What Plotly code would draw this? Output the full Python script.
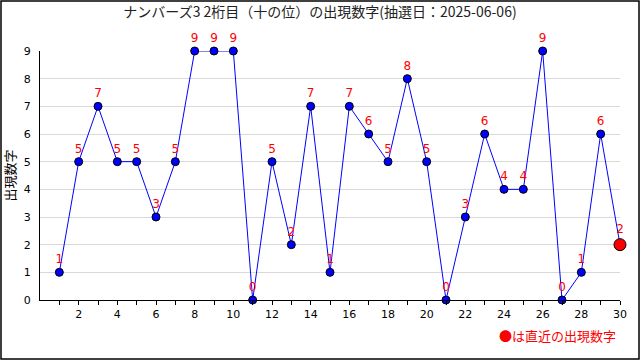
import plotly.graph_objects as go

draws = list(range(1, 31))
digits = [1, 5, 7, 5, 5, 3, 5, 9, 9, 9, 0, 5, 2, 7, 1, 7, 6, 5, 8, 5, 0, 3, 6, 4, 4, 9, 0, 1, 6, 2]
title = "ナンバーズ3 2桁目（十の位）の出現数字(抽選日：2025-06-06)"
y_title = "出現数字"
legend_text = "●は直近の出現数字"
x_tick_vals = list(range(1, 31))
x_tick_text = [str(v) if v % 2 == 0 else "" for v in x_tick_vals]
y_tick_vals = list(range(0, 10))

W, H = 640, 360
L, R, T, B = 40, 20, 51, 60
pw, ph = W - L - R, H - T - B

font = "DejaVu Sans, Noto Sans CJK JP"

fig = go.Figure()
fig.add_trace(go.Scatter(
    x=draws, y=digits, mode="lines+markers+text",
    line=dict(color="#0000ff", width=1),
    marker=dict(color="#0000ff", size=8, line=dict(color="black", width=1)),
    text=[str(d) for d in digits[:-1]] + [""], textposition="top center",
    textfont=dict(color="#ff0000", size=12, family=font),
    cliponaxis=False, hoverinfo="skip", showlegend=False,
))
fig.add_trace(go.Scatter(
    x=draws[-1:], y=digits[-1:], mode="markers+text",
    marker=dict(color="#ff0000", size=12, line=dict(color="black", width=1)),
    text=[str(digits[-1])], textposition="top center",
    textfont=dict(color="#ff0000", size=12, family=font),
    cliponaxis=False, hoverinfo="skip", showlegend=False,
))

fig.update_layout(
    width=W, height=H,
    margin=dict(l=L, r=R, t=T, b=B, autoexpand=False),
    paper_bgcolor="white", plot_bgcolor="white",
    font=dict(family=font, size=12, color="black"),
    title=dict(text=title, x=0.5, xanchor="center", y=1 - 12 / H, yanchor="middle",
               font=dict(size=14, family="Noto Sans CJK JP", color="#222")),
    xaxis=dict(range=[0, 30], tickvals=x_tick_vals, ticktext=x_tick_text,
               ticks="outside", ticklen=4, tickcolor="black", showgrid=False,
               showline=True, linecolor="black", linewidth=1, zeroline=False,
               automargin=False,
               tickfont=dict(size=11, family=font), fixedrange=True),
    yaxis=dict(range=[0, 9], tickvals=y_tick_vals, showgrid=True, gridcolor="#d9d9d9",
               showline=True, linecolor="black", linewidth=1, zeroline=False,
               ticks="", ticklabelstandoff=6, automargin=False,
               tickfont=dict(size=11, family=font), fixedrange=True),
    shapes=[dict(type="rect", xref="paper", yref="paper",
                 x0=(-L + 1) / pw, x1=1 + (R - 1) / pw,
                 y0=(-B + 1) / ph, y1=1 + (T - 1) / ph,
                 line=dict(color="black", width=1.5), layer="above")],
    annotations=[
        dict(text=legend_text, xref="paper", yref="paper",
             x=1 - 2 / pw, y=-35 / ph, xanchor="right", yanchor="middle",
             showarrow=False, font=dict(color="#ff0000", size=13, family="Noto Sans CJK JP")),
        dict(text=y_title, xref="paper", yref="paper", textangle=-90,
             x=-31 / pw, y=0.5, xanchor="center", yanchor="middle",
             showarrow=False, font=dict(size=13, family="Noto Sans CJK JP", color="black")),
    ],
)

fig.write_html("out.html", config={"displayModeBar": False},
               post_script="document.body.style.margin='0';document.body.style.padding='0';")
